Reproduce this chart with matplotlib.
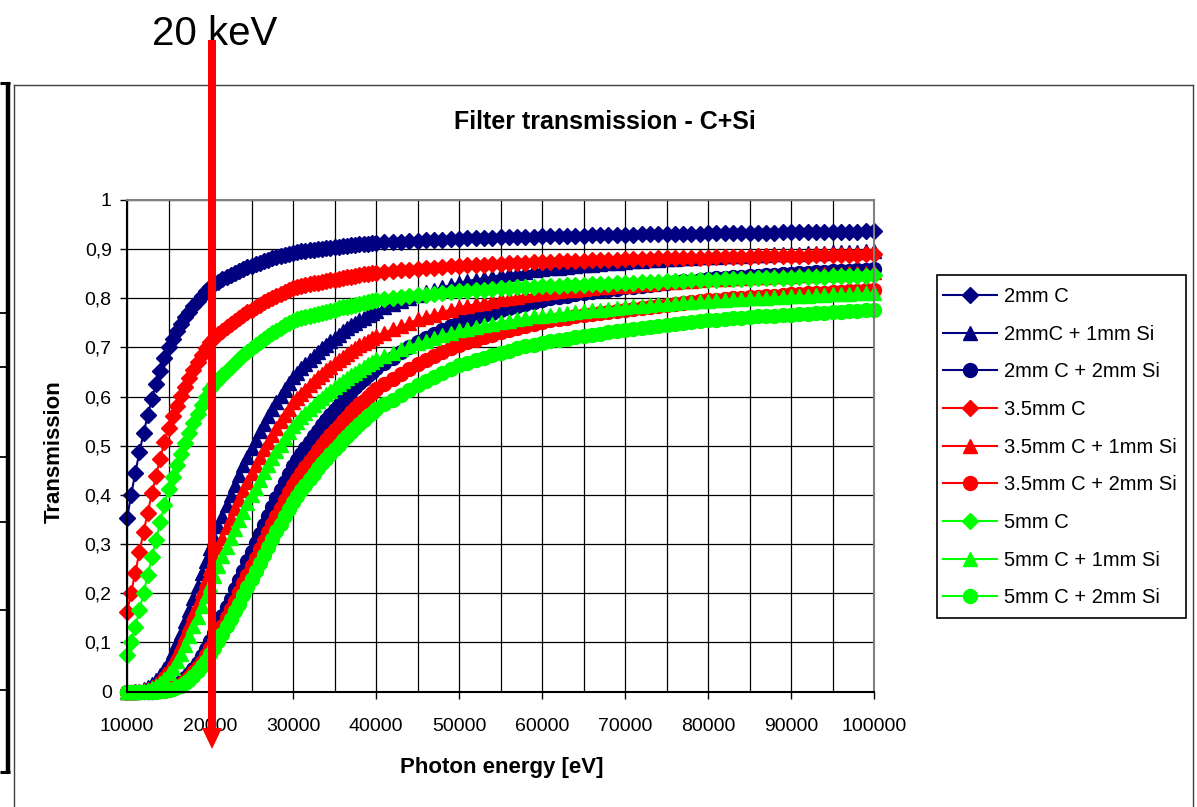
import matplotlib
matplotlib.use("Agg")
import matplotlib.pyplot as plt
from matplotlib.lines import Line2D
from matplotlib.patches import Polygon, Rectangle
from matplotlib.ticker import MultipleLocator, FuncFormatter

plt.rcParams['font.family'] = ['Liberation Sans', 'DejaVu Sans']

# ---------------- data ----------------
# 500 eV sampling up to 40 keV, 1 keV sampling above
energy_ev = list(range(10000, 40001, 500)) + list(range(41000, 100001, 1000))

c2 = [0.352, 0.400, 0.445, 0.487, 0.526, 0.562, 0.595, 0.625, 0.653, 0.678,
      0.701, 0.718, 0.733, 0.748, 0.761, 0.773, 0.785, 0.795, 0.805, 0.814,
      0.823, 0.829, 0.834, 0.839, 0.843, 0.847, 0.851, 0.855, 0.859, 0.863,
      0.866, 0.869, 0.872, 0.875, 0.878, 0.881, 0.884, 0.887, 0.889, 0.891,
      0.893, 0.895, 0.896, 0.897, 0.898, 0.899, 0.900, 0.901, 0.902, 0.903,
      0.904, 0.905, 0.906, 0.907, 0.908, 0.909, 0.910, 0.911, 0.911, 0.912, 0.913,
      0.914, 0.914, 0.915, 0.916, 0.917, 0.918, 0.918, 0.919, 0.920, 0.921,
      0.922, 0.922, 0.923, 0.923, 0.924, 0.924, 0.924, 0.925, 0.925, 0.926,
      0.926, 0.926, 0.927, 0.927, 0.927, 0.928, 0.928, 0.928, 0.929, 0.929,
      0.929, 0.930, 0.930, 0.930, 0.930, 0.931, 0.931, 0.931, 0.931, 0.932,
      0.932, 0.932, 0.932, 0.933, 0.933, 0.933, 0.933, 0.933, 0.934, 0.934,
      0.934, 0.934, 0.934, 0.935, 0.935, 0.935, 0.935, 0.935, 0.936, 0.936]
c2_si1 = [0.000, 0.000, 0.001, 0.002, 0.005, 0.009, 0.015, 0.023, 0.034, 0.046,
          0.063, 0.080, 0.100, 0.120, 0.143, 0.166, 0.191, 0.215, 0.241, 0.265,
          0.291, 0.313, 0.336, 0.358, 0.380, 0.400, 0.421, 0.440, 0.460, 0.478,
          0.496, 0.512, 0.529, 0.544, 0.560, 0.574, 0.589, 0.602, 0.615, 0.627,
          0.639, 0.648, 0.658, 0.666, 0.675, 0.683, 0.691, 0.698, 0.706, 0.713,
          0.720, 0.726, 0.733, 0.739, 0.745, 0.750, 0.755, 0.760, 0.766, 0.770, 0.775,
          0.782, 0.788, 0.795, 0.801, 0.807, 0.812, 0.817, 0.822, 0.827, 0.832,
          0.835, 0.838, 0.841, 0.844, 0.847, 0.849, 0.852, 0.854, 0.857, 0.859,
          0.861, 0.862, 0.864, 0.865, 0.867, 0.868, 0.869, 0.871, 0.872, 0.874,
          0.875, 0.876, 0.877, 0.878, 0.879, 0.880, 0.881, 0.882, 0.884, 0.885,
          0.885, 0.886, 0.887, 0.887, 0.888, 0.889, 0.889, 0.890, 0.890, 0.891,
          0.891, 0.892, 0.893, 0.893, 0.894, 0.894, 0.895, 0.895, 0.896, 0.896]
c2_si2 = [0.000, 0.000, 0.000, 0.000, 0.000, 0.000, 0.000, 0.001, 0.002, 0.003,
          0.006, 0.009, 0.014, 0.019, 0.027, 0.035, 0.046, 0.058, 0.072, 0.086,
          0.103, 0.119, 0.136, 0.153, 0.171, 0.189, 0.208, 0.227, 0.246, 0.265,
          0.284, 0.302, 0.321, 0.339, 0.358, 0.375, 0.393, 0.409, 0.426, 0.442,
          0.458, 0.471, 0.484, 0.496, 0.508, 0.519, 0.531, 0.542, 0.553, 0.563,
          0.573, 0.583, 0.593, 0.602, 0.611, 0.619, 0.628, 0.635, 0.643, 0.650, 0.658,
          0.669, 0.679, 0.690, 0.700, 0.711, 0.719, 0.727, 0.735, 0.743, 0.751,
          0.756, 0.761, 0.766, 0.771, 0.776, 0.781, 0.785, 0.789, 0.793, 0.797,
          0.800, 0.802, 0.805, 0.808, 0.810, 0.813, 0.815, 0.817, 0.819, 0.822,
          0.823, 0.825, 0.827, 0.829, 0.831, 0.833, 0.835, 0.836, 0.838, 0.840,
          0.841, 0.842, 0.843, 0.844, 0.845, 0.846, 0.847, 0.848, 0.849, 0.850,
          0.851, 0.852, 0.853, 0.854, 0.855, 0.856, 0.856, 0.857, 0.858, 0.859]
c35 = [0.161, 0.201, 0.242, 0.284, 0.325, 0.364, 0.403, 0.439, 0.474, 0.507,
       0.537, 0.560, 0.581, 0.601, 0.620, 0.637, 0.654, 0.670, 0.685, 0.699,
       0.712, 0.720, 0.727, 0.734, 0.741, 0.748, 0.754, 0.760, 0.766, 0.772,
       0.777, 0.782, 0.787, 0.792, 0.797, 0.801, 0.805, 0.809, 0.813, 0.817,
       0.821, 0.823, 0.825, 0.827, 0.829, 0.831, 0.832, 0.834, 0.835, 0.837,
       0.838, 0.840, 0.842, 0.843, 0.844, 0.846, 0.847, 0.849, 0.850, 0.851, 0.852,
       0.854, 0.855, 0.857, 0.858, 0.860, 0.861, 0.862, 0.863, 0.865, 0.866,
       0.867, 0.867, 0.868, 0.869, 0.870, 0.871, 0.871, 0.872, 0.873, 0.874,
       0.874, 0.875, 0.875, 0.876, 0.876, 0.877, 0.877, 0.878, 0.878, 0.879,
       0.879, 0.880, 0.880, 0.881, 0.881, 0.882, 0.882, 0.883, 0.883, 0.883,
       0.884, 0.884, 0.884, 0.885, 0.885, 0.886, 0.886, 0.886, 0.887, 0.887,
       0.887, 0.887, 0.888, 0.888, 0.888, 0.889, 0.889, 0.889, 0.890, 0.890]
c35_si1 = [0.000, 0.000, 0.001, 0.001, 0.003, 0.006, 0.010, 0.016, 0.025, 0.035,
           0.048, 0.062, 0.079, 0.096, 0.117, 0.137, 0.159, 0.181, 0.205, 0.227,
           0.252, 0.272, 0.293, 0.313, 0.334, 0.353, 0.373, 0.391, 0.410, 0.427,
           0.445, 0.461, 0.478, 0.493, 0.508, 0.522, 0.537, 0.550, 0.563, 0.575,
           0.588, 0.597, 0.606, 0.614, 0.623, 0.631, 0.639, 0.646, 0.654, 0.661,
           0.668, 0.674, 0.681, 0.686, 0.692, 0.698, 0.704, 0.709, 0.714, 0.719, 0.724,
           0.730, 0.737, 0.743, 0.750, 0.757, 0.762, 0.767, 0.772, 0.777, 0.782,
           0.785, 0.788, 0.791, 0.795, 0.798, 0.800, 0.803, 0.806, 0.808, 0.811,
           0.812, 0.814, 0.816, 0.817, 0.819, 0.821, 0.822, 0.824, 0.825, 0.826,
           0.828, 0.829, 0.830, 0.832, 0.833, 0.834, 0.835, 0.836, 0.838, 0.839,
           0.840, 0.840, 0.841, 0.842, 0.843, 0.843, 0.844, 0.845, 0.846, 0.846,
           0.847, 0.848, 0.848, 0.849, 0.850, 0.850, 0.851, 0.851, 0.852, 0.853]
c35_si2 = [0.000, 0.000, 0.000, 0.000, 0.000, 0.000, 0.000, 0.001, 0.001, 0.002,
           0.004, 0.007, 0.011, 0.015, 0.022, 0.029, 0.039, 0.049, 0.061, 0.074,
           0.089, 0.103, 0.118, 0.134, 0.151, 0.167, 0.185, 0.202, 0.220, 0.237,
           0.255, 0.272, 0.290, 0.307, 0.324, 0.341, 0.358, 0.374, 0.390, 0.405,
           0.420, 0.432, 0.445, 0.457, 0.469, 0.480, 0.491, 0.501, 0.512, 0.522,
           0.532, 0.541, 0.550, 0.559, 0.568, 0.576, 0.584, 0.592, 0.600, 0.607, 0.615,
           0.625, 0.635, 0.646, 0.656, 0.666, 0.674, 0.682, 0.690, 0.698, 0.706,
           0.711, 0.716, 0.721, 0.726, 0.731, 0.736, 0.740, 0.744, 0.748, 0.752,
           0.755, 0.758, 0.760, 0.763, 0.766, 0.768, 0.770, 0.773, 0.775, 0.777,
           0.779, 0.781, 0.783, 0.785, 0.787, 0.789, 0.791, 0.793, 0.795, 0.796,
           0.797, 0.799, 0.800, 0.801, 0.802, 0.803, 0.804, 0.805, 0.807, 0.808,
           0.809, 0.810, 0.811, 0.811, 0.812, 0.813, 0.814, 0.815, 0.816, 0.817]
c5 = [0.074, 0.101, 0.132, 0.165, 0.201, 0.237, 0.273, 0.309, 0.344, 0.379,
      0.412, 0.437, 0.460, 0.483, 0.505, 0.526, 0.546, 0.564, 0.582, 0.599,
      0.615, 0.625, 0.634, 0.643, 0.652, 0.660, 0.668, 0.676, 0.684, 0.691,
      0.698, 0.705, 0.711, 0.717, 0.723, 0.729, 0.734, 0.740, 0.745, 0.750,
      0.754, 0.757, 0.760, 0.762, 0.764, 0.767, 0.769, 0.771, 0.773, 0.775,
      0.777, 0.780, 0.782, 0.783, 0.785, 0.787, 0.789, 0.791, 0.792, 0.794, 0.796,
      0.798, 0.800, 0.802, 0.804, 0.806, 0.807, 0.809, 0.811, 0.812, 0.814,
      0.815, 0.816, 0.817, 0.819, 0.820, 0.821, 0.822, 0.823, 0.824, 0.825,
      0.825, 0.826, 0.827, 0.827, 0.828, 0.829, 0.830, 0.830, 0.831, 0.832,
      0.832, 0.833, 0.834, 0.834, 0.835, 0.835, 0.836, 0.837, 0.837, 0.838,
      0.838, 0.839, 0.839, 0.840, 0.840, 0.841, 0.841, 0.842, 0.842, 0.842,
      0.843, 0.843, 0.844, 0.844, 0.845, 0.845, 0.845, 0.846, 0.846, 0.847]
c5_si1 = [0.000, 0.000, 0.000, 0.001, 0.002, 0.004, 0.007, 0.011, 0.018, 0.026,
          0.037, 0.048, 0.063, 0.077, 0.095, 0.112, 0.133, 0.152, 0.174, 0.195,
          0.217, 0.236, 0.256, 0.275, 0.294, 0.312, 0.331, 0.348, 0.366, 0.383,
          0.400, 0.415, 0.431, 0.446, 0.461, 0.475, 0.489, 0.502, 0.515, 0.527,
          0.540, 0.549, 0.558, 0.566, 0.575, 0.583, 0.591, 0.598, 0.605, 0.612,
          0.619, 0.625, 0.632, 0.638, 0.644, 0.649, 0.655, 0.660, 0.666, 0.671, 0.676,
          0.683, 0.689, 0.696, 0.703, 0.709, 0.714, 0.719, 0.725, 0.730, 0.735,
          0.738, 0.742, 0.745, 0.748, 0.752, 0.754, 0.757, 0.760, 0.763, 0.765,
          0.767, 0.769, 0.771, 0.772, 0.774, 0.776, 0.777, 0.779, 0.781, 0.782,
          0.784, 0.785, 0.786, 0.788, 0.789, 0.790, 0.792, 0.793, 0.794, 0.795,
          0.796, 0.797, 0.798, 0.799, 0.800, 0.801, 0.801, 0.802, 0.803, 0.804,
          0.805, 0.805, 0.806, 0.807, 0.808, 0.808, 0.809, 0.810, 0.810, 0.811]
c5_si2 = [0.000, 0.000, 0.000, 0.000, 0.000, 0.000, 0.000, 0.000, 0.001, 0.002,
          0.003, 0.005, 0.009, 0.012, 0.018, 0.024, 0.032, 0.041, 0.052, 0.063,
          0.077, 0.089, 0.103, 0.117, 0.133, 0.147, 0.164, 0.179, 0.196, 0.212,
          0.229, 0.245, 0.262, 0.278, 0.294, 0.310, 0.326, 0.341, 0.357, 0.371,
          0.386, 0.398, 0.410, 0.421, 0.432, 0.443, 0.454, 0.464, 0.474, 0.483,
          0.493, 0.502, 0.511, 0.519, 0.528, 0.536, 0.544, 0.552, 0.560, 0.567, 0.574,
          0.584, 0.594, 0.604, 0.614, 0.624, 0.632, 0.640, 0.648, 0.656, 0.664,
          0.669, 0.674, 0.679, 0.684, 0.689, 0.693, 0.698, 0.702, 0.706, 0.710,
          0.713, 0.716, 0.718, 0.721, 0.724, 0.726, 0.728, 0.731, 0.733, 0.736,
          0.738, 0.740, 0.742, 0.744, 0.746, 0.748, 0.750, 0.751, 0.753, 0.755,
          0.756, 0.758, 0.759, 0.760, 0.761, 0.763, 0.764, 0.765, 0.766, 0.767,
          0.768, 0.769, 0.770, 0.771, 0.772, 0.773, 0.774, 0.775, 0.776, 0.777]

series_labels = ["2mm C", "2mmC + 1mm Si", "2mm C + 2mm Si",
                 "3.5mm C", "3.5mm C + 1mm Si", "3.5mm C + 2mm Si",
                 "5mm C", "5mm C + 1mm Si", "5mm C + 2mm Si"]
series_values = [c2, c2_si1, c2_si2, c35, c35_si1, c35_si2, c5, c5_si1, c5_si2]
x_tick_values = list(range(10000, 100001, 10000))
y_tick_values = [0, 0.1, 0.2, 0.3, 0.4, 0.5, 0.6, 0.7, 0.8, 0.9, 1.0]

# ---------------- styling ----------------
NAVY, RED, GREEN = "#000080", "#FF0000", "#00FF00"
colors = [NAVY] * 3 + [RED] * 3 + [GREEN] * 3
markers = ["D", "^", "o"] * 3
msizes = [8, 9.5, 10] * 3

W, H = 1197, 807
fig = plt.figure(figsize=(W / 100, H / 100), dpi=100)
fig.patch.set_facecolor("white")


def fx(px):
    return px / W


def fy(py):
    return 1 - py / H


ax = fig.add_axes([fx(127), fy(691.5), (874 - 127) / W, (691.5 - 200) / H])

for lab, vals, col, mk, ms in zip(series_labels, series_values, colors, markers, msizes):
    ax.plot(energy_ev, vals, color=col, marker=mk, ms=ms, mec=col, mfc=col,
            lw=1.5, label=lab, clip_on=False)

ax.set_xlim(10000, 100000)
ax.set_ylim(0, 1)
ax.set_xticks(x_tick_values)
ax.xaxis.set_minor_locator(MultipleLocator(5000))
ax.set_yticks(y_tick_values)


def yfmt(v, pos):
    if abs(v) < 1e-9:
        return "0"
    if abs(v - 1) < 1e-9:
        return "1"
    return ("%.1f" % v).replace(".", ",")


ax.yaxis.set_major_formatter(FuncFormatter(yfmt))
ax.xaxis.set_major_formatter(FuncFormatter(lambda v, p: "%d" % v))
ax.grid(which="both", color="#000000", lw=0.9)
ax.set_axisbelow(True)
ax.tick_params(axis="both", which="major", direction="out", length=5, width=1,
               labelsize=14, colors="black")
ax.tick_params(axis="x", which="major", pad=14)
ax.tick_params(axis="y", which="major", pad=6)
ax.tick_params(axis="x", which="minor", length=0)
for s in ("left", "bottom"):
    ax.spines[s].set_color("#000000")
    ax.spines[s].set_linewidth(1.5)
for s in ("top", "right"):
    ax.spines[s].set_color("#808080")
    ax.spines[s].set_linewidth(1.5)

# titles
fig.text(fx(605), fy(122), "Filter transmission - C+Si", ha="center", va="center",
         fontsize=18, fontweight="bold")
fig.text(fx(502), fy(768), "Photon energy [eV]", ha="center", va="center",
         fontsize=16, fontweight="bold")
fig.text(fx(54), fy(452), "Transmission", ha="center", va="center", rotation=90,
         fontsize=16, fontweight="bold")

# legend (frame drawn separately)
fig.add_artist(Rectangle((fx(937), fy(618)), fx(1186) - fx(937), fy(275) - fy(618),
                         transform=fig.transFigure, facecolor="white",
                         edgecolor="black", lw=1.2, zorder=1))
handles, labels = ax.get_legend_handles_labels()
leg = fig.legend(handles, labels, loc="upper left", bbox_to_anchor=(fx(937), fy(281)),
                 bbox_transform=fig.transFigure, frameon=False,
                 fontsize=14.5, handlelength=2.7, handletextpad=0.35,
                 labelspacing=0.926, borderpad=0.3, borderaxespad=0)
leg.set_zorder(3)

# chart-area border
border_kw = dict(color="#404040", lw=1, transform=fig.transFigure)
fig.add_artist(Line2D([fx(13.5), fx(13.5)], [fy(85), fy(807)], **border_kw))
fig.add_artist(Line2D([fx(13.5), fx(1193)], [fy(85), fy(85)], **border_kw))
fig.add_artist(Line2D([fx(1193), fx(1193)], [fy(85), fy(807)], **border_kw))

# stray frame at left edge
frame_kw = dict(color="black", transform=fig.transFigure, solid_capstyle="butt")
fig.add_artist(Line2D([fx(8), fx(8)], [fy(82), fy(773)], lw=3.2, **frame_kw))
fig.add_artist(Line2D([fx(0), fx(10)], [fy(83), fy(83)], lw=2.2, **frame_kw))
fig.add_artist(Line2D([fx(0), fx(10)], [fy(772), fy(772)], lw=2.2, **frame_kw))
for ty in (313, 367, 457, 522, 610, 690):
    fig.add_artist(Line2D([fx(0), fx(7)], [fy(ty), fy(ty)], lw=1.3, **frame_kw))

# 20 keV marker arrow
arrow_pts = [(208, 40), (216, 40), (216, 728), (222, 728), (212, 749), (202, 728), (208, 728)]
fig.add_artist(Polygon([(fx(px), fy(py)) for px, py in arrow_pts], closed=True,
                       transform=fig.transFigure, facecolor="#FF0000", edgecolor="none", zorder=20))
fig.text(fx(152), fy(45), "20 keV", ha="left", va="baseline", fontsize=29, zorder=5)

fig.savefig("out.png", dpi=100, facecolor="white")
